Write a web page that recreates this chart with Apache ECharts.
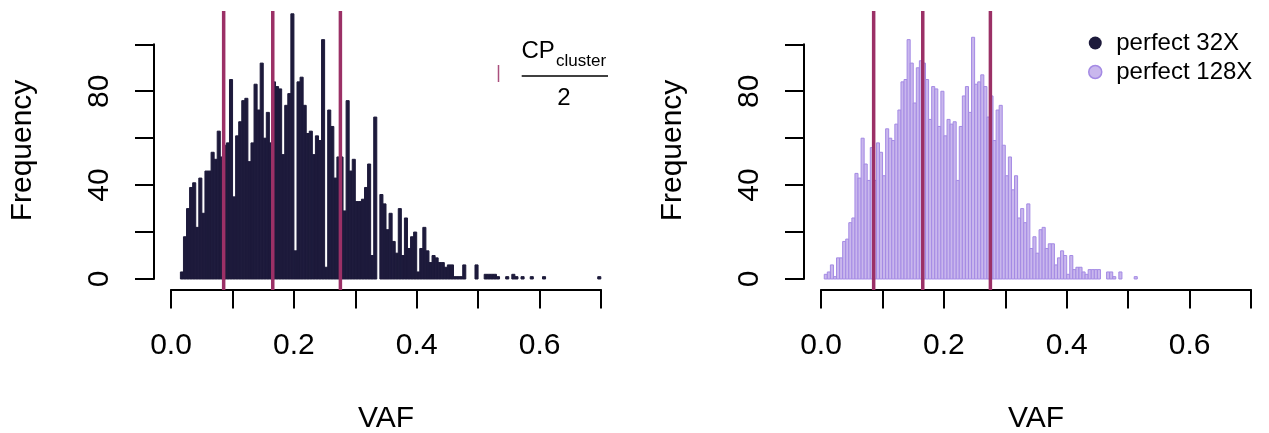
<!DOCTYPE html>
<html>
<head>
<meta charset="utf-8">
<script src="https://cdn.jsdelivr.net/npm/echarts@6/dist/echarts.min.js"></script>
<style>
  html, body { margin: 0; padding: 0; background: #fff; }
  #chart { width: 1269px; height: 433px; }
</style>
</head>
<body>
<div id="chart"></div>
<script>
// histogram counts, bins of 0.005 VAF starting at 0
var binWidth = 0.005;
var counts32 = [
  0, 0, 0, 3, 18, 30, 39, 41, 22, 43,
  28, 46, 46, 54, 51, 63, 52, 57, 58, 85,
  35, 61, 67, 76, 77, 50, 58, 83, 72, 92,
  60, 71, 58, 84, 82, 81, 53, 74, 79, 113,
  12, 84, 86, 74, 62, 63, 53, 61, 59, 102,
  5, 72, 65, 43, 52, 52, 29, 76, 46, 51,
  33, 33, 34, 39, 49, 10, 69, 0, 36, 32,
  21, 28, 16, 11, 30, 10, 26, 13, 18, 20,
  3, 13, 22, 12, 7, 10, 9, 7, 7, 5,
  6, 6, 1, 1, 1, 6, 0, 0, 0, 6,
  0, 0, 2, 2, 2, 2, 1, 0, 0, 1,
  0, 2, 1, 0, 1, 0, 0, 1, 0, 0,
  0, 1, 0, 0, 0, 0, 0, 0, 0, 0,
  0, 0, 0, 0, 0, 0, 0, 0, 0, 1
];
var counts128 = [
  0, 2, 3, 6, 1, 9, 9, 16, 17, 24,
  26, 45, 43, 60, 49, 42, 56, 42, 58, 54,
  44, 64, 60, 59, 66, 72, 84, 85, 102, 92,
  75, 90, 93, 92, 85, 68, 82, 81, 65, 80,
  61, 68, 66, 67, 42, 65, 78, 82, 71, 103,
  83, 84, 87, 82, 69, 78, 59, 72, 74, 57,
  44, 52, 38, 44, 26, 30, 24, 32, 13, 18,
  11, 21, 22, 13, 15, 15, 6, 9, 12, 10,
  2, 10, 4, 5, 5, 3, 2, 4, 4, 4,
  4, 0, 0, 3, 3, 1, 0, 3, 0, 0,
  0, 0, 1
];
var cpLines = [0.0855, 0.1655, 0.2757];   // CP_cluster / 2
var seriesNames = ['perfect 32X', 'perfect 128X'];

var font = 'Liberation Sans, Arial, Helvetica, sans-serif';
var navy = '#1d1a3b';
var lavender = '#c9b7ed';
var lavenderEdge = '#a48ae4';
var raspberry = '#9b3066';

function binData(counts) {
  var out = [];
  for (var i = 0; i < counts.length; i++) {
    if (counts[i] > 0) out.push([i * binWidth, (i + 1) * binWidth, counts[i]]);
  }
  return out;
}

function barRender(fill, stroke) {
  return function (params, api) {
    var p0 = api.coord([api.value(0), api.value(2)]);
    var p1 = api.coord([api.value(1), 0]);
    return {
      type: 'rect',
      shape: { x: p0[0], y: p0[1], width: p1[0] - p0[0], height: p1[1] - p0[1] },
      style: { fill: fill, stroke: stroke, lineWidth: 1 }
    };
  };
}

function cpRender(params, api) {
  var cs = params.coordSys;
  var x = api.coord([api.value(0), 0])[0];
  return {
    type: 'line',
    shape: { x1: x, y1: cs.y, x2: x, y2: cs.y + cs.height },
    style: { stroke: raspberry, lineWidth: 3.5 }
  };
}

var grids = [], xAxes = [], yAxes = [], series = [];
var axisLine = { show: true, lineStyle: { color: '#000', width: 2 } };
var axisTick = { show: true, inside: false, length: 19, lineStyle: { color: '#000', width: 2 } };

function panel(dx, k, counts, fill, stroke) {
  var g = grids.length;
  // plot region (bars, lines, axis titles)
  grids.push({ left: 154 + dx, top: 11, width: 464, height: 279, outerBoundsMode: 'none', containLabel: false });
  // x axis 0 - 0.7
  grids.push({ left: 171 + dx, top: 11, width: 430, height: 278.5, outerBoundsMode: 'none', containLabel: false });
  // y axis 0 - 100
  grids.push({ left: 154 + dx, top: 44.3, width: 464, height: 234.7, outerBoundsMode: 'none', containLabel: false });

  xAxes.push({
    gridIndex: g, type: 'value', min: -0.028, max: 0.728,
    name: 'VAF', nameLocation: 'middle', nameGap: 114,
    nameTextStyle: { fontSize: 30, fontFamily: font, color: '#000' },
    axisLine: { show: false }, axisTick: { show: false }, axisLabel: { show: false }, splitLine: { show: false }
  });
  yAxes.push({
    gridIndex: g, type: 'value', min: -4.69, max: 114.2,
    name: 'Frequency', nameLocation: 'middle', nameGap: 116, nameRotate: 90,
    nameTextStyle: { fontSize: 30, fontFamily: font, color: '#000' },
    axisLine: { show: false }, axisTick: { show: false }, axisLabel: { show: false }, splitLine: { show: false }
  });

  xAxes.push({
    gridIndex: g + 1, type: 'value', min: 0, max: 0.7, interval: 0.1, position: 'bottom',
    axisLine: axisLine, axisTick: axisTick, splitLine: { show: false },
    axisLabel: {
      margin: 41, fontSize: 30, fontFamily: font, color: '#000',
      formatter: function (v) { var t = Math.round(v * 10); return t % 2 === 0 ? (t / 10).toFixed(1) : ''; }
    }
  });
  yAxes.push({ gridIndex: g + 1, type: 'value', show: false, min: 0, max: 1 });

  xAxes.push({ gridIndex: g + 2, type: 'value', show: false, min: 0, max: 1 });
  yAxes.push({
    gridIndex: g + 2, type: 'value', min: 0, max: 100, interval: 20, position: 'left',
    axisLine: axisLine, axisTick: axisTick, splitLine: { show: false },
    axisLabel: {
      margin: 39, rotate: 90, fontSize: 30, fontFamily: font, color: '#000',
      formatter: function (v) { return v % 40 === 0 ? String(v) : ''; }
    }
  });

  series.push({
    name: seriesNames[k], type: 'custom', xAxisIndex: g, yAxisIndex: g,
    renderItem: barRender(fill, stroke), itemStyle: { color: fill },
    data: binData(counts), silent: true
  });
  series.push({
    name: 'cp' + k, type: 'custom', xAxisIndex: g, yAxisIndex: g,
    renderItem: cpRender, data: cpLines.map(function (v) { return [v, 0]; }), silent: true, z: 5
  });
}

panel(0, 0, counts32, navy, navy);
panel(650, 1, counts128, lavender, lavenderEdge);

var chart = echarts.init(document.getElementById('chart'));
chart.setOption({
  animation: false,
  backgroundColor: '#fff',
  grid: grids,
  xAxis: xAxes,
  yAxis: yAxes,
  series: series,
  legend: {
    orient: 'vertical', left: 1083, top: 26, itemWidth: 32, itemHeight: 13, itemGap: 5,
    icon: 'circle', selectedMode: false,
    textStyle: { fontSize: 24, fontFamily: font, color: '#000' },
    data: [
      { name: seriesNames[0], itemStyle: { color: navy } },
      { name: seriesNames[1], itemStyle: { color: lavender, borderColor: lavenderEdge, borderWidth: 1.5 } }
    ]
  },
  graphic: [
    { type: 'line', shape: { x1: 498.5, y1: 65, x2: 498.5, y2: 82 }, style: { stroke: raspberry, lineWidth: 1.5, opacity: 0.85 } },
    { type: 'text', x: 521.5, y: 51.7, style: { text: 'CP', font: '24px ' + font, fill: '#000', verticalAlign: 'middle' } },
    { type: 'text', x: 556, y: 61, style: { text: 'cluster', font: '17px ' + font, fill: '#000', verticalAlign: 'middle' } },
    { type: 'line', shape: { x1: 521.7, y1: 76, x2: 608, y2: 76 }, style: { stroke: '#000', lineWidth: 1.5 } },
    { type: 'text', x: 564, y: 98, style: { text: '2', font: '24px ' + font, fill: '#000', align: 'center', verticalAlign: 'middle' } }
  ]
});
</script>
</body>
</html>
